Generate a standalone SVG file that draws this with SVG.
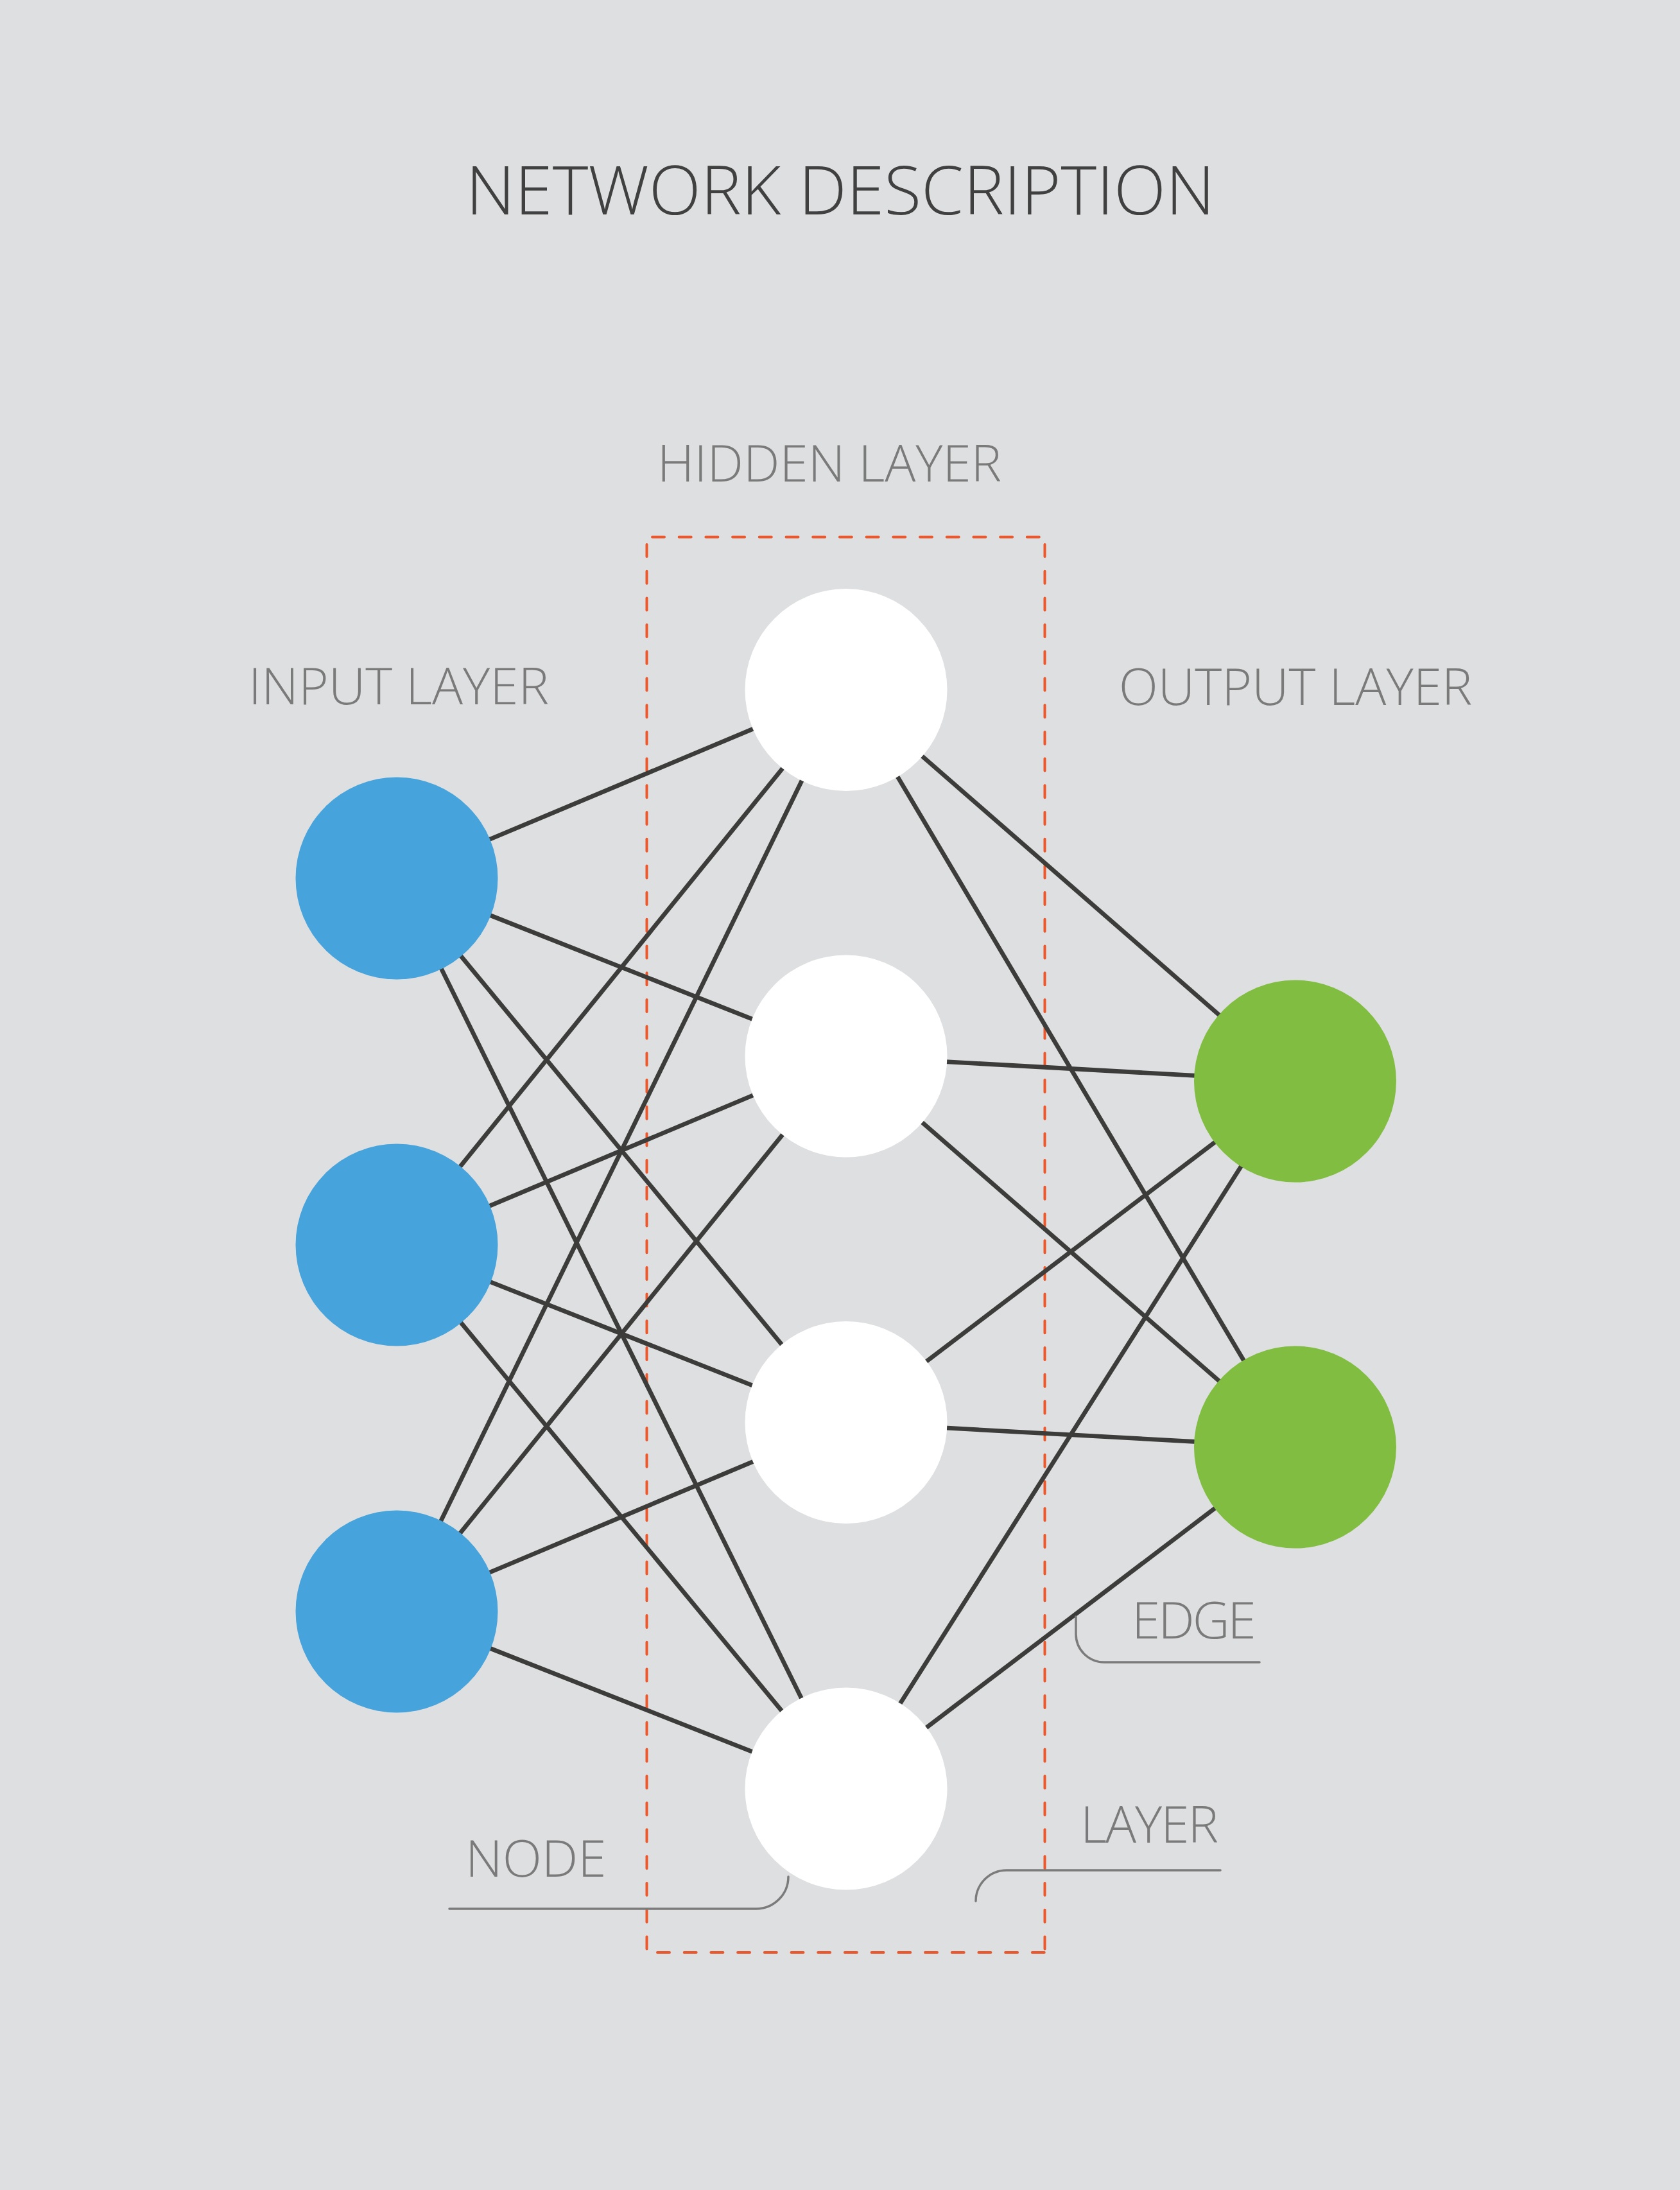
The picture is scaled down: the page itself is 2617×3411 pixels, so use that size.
<svg xmlns="http://www.w3.org/2000/svg" width="2617" height="3411" viewBox="0 0 2617 3411">
<style>
.title{font-family:"Open Sans","Liberation Sans",sans-serif;font-weight:300;font-size:106px;fill:#404040}
.lbl{font-family:"Open Sans","Liberation Sans",sans-serif;font-weight:300;font-size:80px;fill:#7a7a7a}
.edge{stroke:#3c3c3a;stroke-width:6.8;fill:none}
.dash{stroke:#ef572a;stroke-width:4;stroke-dasharray:19 22.7;stroke-linecap:round;fill:none}
.lead{stroke:#7b7b7b;stroke-width:3.5;fill:none;stroke-linecap:round}
.in{fill:#46a3db}
.hid{fill:#ffffff}
.out{fill:#80bd41}
</style>
<rect width="2617" height="3411" fill="#dedfe0"/>
<text class="title" x="1309" y="334" text-anchor="middle">NETWORK DESCRIPTION</text>
<text class="lbl" x="1292" y="750" text-anchor="middle">HIDDEN LAYER</text>
<text class="lbl" x="621" y="1097" text-anchor="middle">INPUT LAYER</text>
<text class="lbl" x="2018" y="1098" text-anchor="middle">OUTPUT LAYER</text>
<g id="layer-box">
<line class="dash" x1="1016" y1="836.5" x2="1627.5" y2="836.5"/>
<line class="dash" x1="1007.5" y1="848" x2="1007.5" y2="3041"/>
<line class="dash" x1="1627.5" y1="848" x2="1627.5" y2="3041"/>
<line class="dash" x1="1024" y1="3041" x2="1627.5" y2="3041"/>
</g>
<g id="connectors">
<line class="edge" x1="618" y1="1368" x2="1318" y2="1074.5"/>
<line class="edge" x1="618" y1="1368" x2="1318" y2="1645"/>
<line class="edge" x1="618" y1="1368" x2="1318" y2="2215.5"/>
<line class="edge" x1="618" y1="1368" x2="1318" y2="2786"/>
<line class="edge" x1="618" y1="1939" x2="1318" y2="1074.5"/>
<line class="edge" x1="618" y1="1939" x2="1318" y2="1645"/>
<line class="edge" x1="618" y1="1939" x2="1318" y2="2215.5"/>
<line class="edge" x1="618" y1="1939" x2="1318" y2="2786"/>
<line class="edge" x1="618" y1="2510" x2="1318" y2="1074.5"/>
<line class="edge" x1="618" y1="2510" x2="1318" y2="1645"/>
<line class="edge" x1="618" y1="2510" x2="1318" y2="2215.5"/>
<line class="edge" x1="618" y1="2510" x2="1318" y2="2786"/>
<line class="edge" x1="1318" y1="1074.5" x2="2017.5" y2="1684"/>
<line class="edge" x1="1318" y1="1074.5" x2="2017.5" y2="2254"/>
<line class="edge" x1="1318" y1="1645" x2="2017.5" y2="1684"/>
<line class="edge" x1="1318" y1="1645" x2="2017.5" y2="2254"/>
<line class="edge" x1="1318" y1="2215.5" x2="2017.5" y2="1684"/>
<line class="edge" x1="1318" y1="2215.5" x2="2017.5" y2="2254"/>
<line class="edge" x1="1318" y1="2786" x2="2017.5" y2="1684"/>
<line class="edge" x1="1318" y1="2786" x2="2017.5" y2="2254"/>
</g>
<g id="input-1"><circle class="in" cx="618" cy="1368" r="157.5"/></g>
<g id="input-2"><circle class="in" cx="618" cy="1939" r="157.5"/></g>
<g id="input-3"><circle class="in" cx="618" cy="2510" r="157.5"/></g>
<g id="hidden-1"><circle class="hid" cx="1318" cy="1074.5" r="157.5"/></g>
<g id="hidden-2"><circle class="hid" cx="1318" cy="1645" r="157.5"/></g>
<g id="hidden-3"><circle class="hid" cx="1318" cy="2215.5" r="157.5"/></g>
<g id="hidden-4"><circle class="hid" cx="1318" cy="2786" r="157.5"/></g>
<g id="output-1"><circle class="out" cx="2017.5" cy="1684" r="157.5"/></g>
<g id="output-2"><circle class="out" cx="2017.5" cy="2254" r="157.5"/></g>
<g id="legend">
<text class="lbl" x="1763" y="2552" letter-spacing="-3">EDGE</text>
<path class="lead" d="M1676,2518 V2545 A44,44 0 0 0 1720,2589 H1962"/>
<text class="lbl" x="1683" y="2870" letter-spacing="-2">LAYER</text>
<path class="lead" d="M1901,2913 H1568 A48,48 0 0 0 1520,2961"/>
<text class="lbl" x="725" y="2923">NODE</text>
<path class="lead" d="M700,2973 H1178 A50,50 0 0 0 1228,2923"/>
</g>
</svg>
